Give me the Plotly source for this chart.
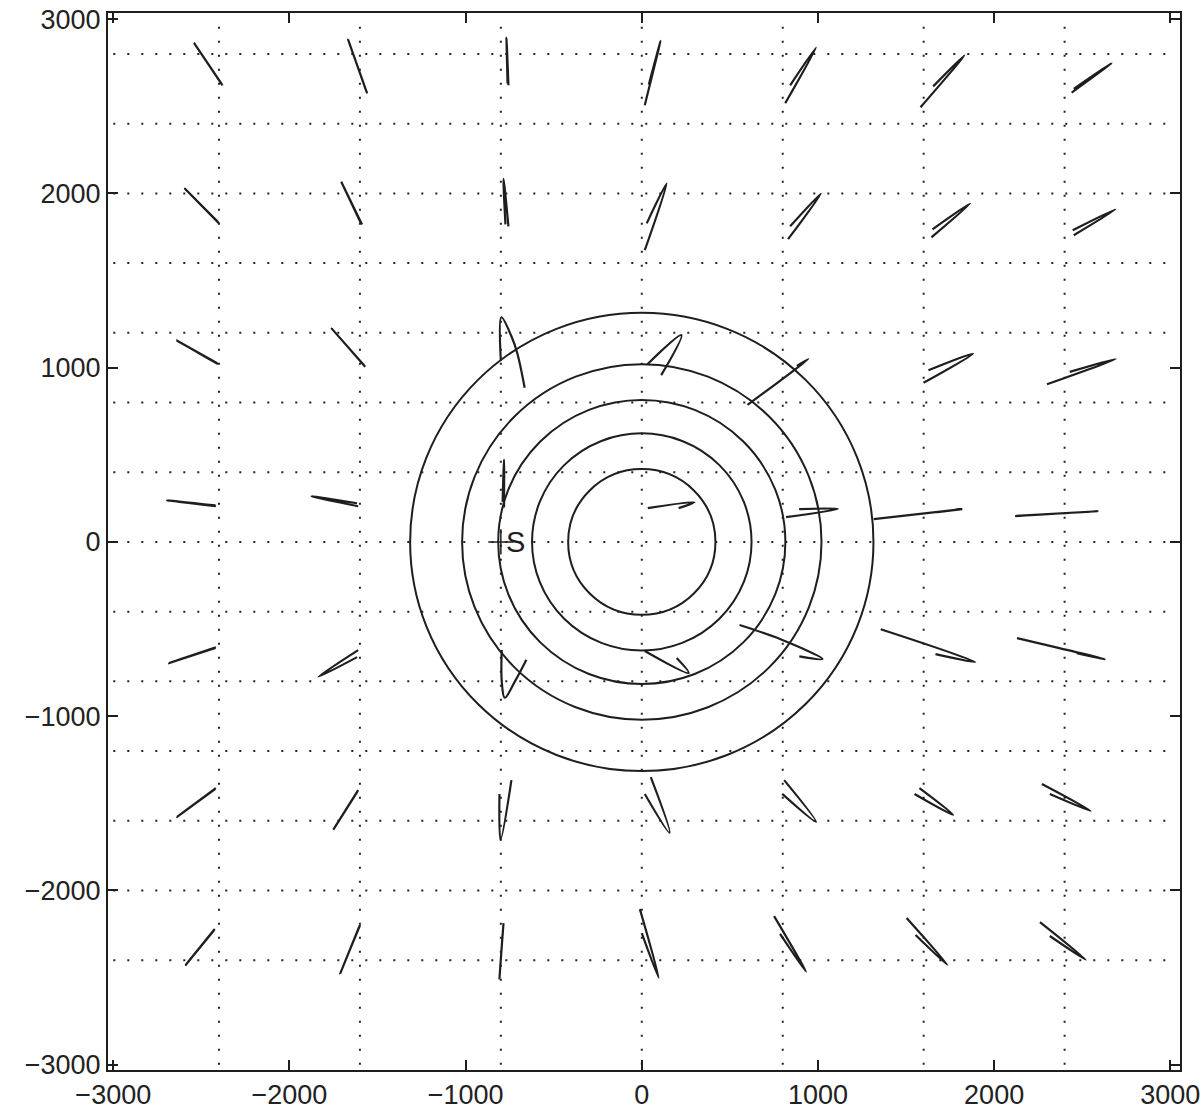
import plotly.graph_objects as go

# axis ticks and the dotted receiver grid
tick_vals = [-3000, -2000, -1000, 0, 1000, 2000, 3000]
grid_x = [-2400, -1600, -800, 0, 800, 1600, 2400]
grid_y = [2800, 2400, 2000, 1600, 1200, 800, 400, 0, -400, -800, -1200, -1600, -2000, -2400]
grid_extent = 3000

# wavefront circles around the origin
circle_r = [418, 623, 815, 1020, 1315]

# source position
source_x = -800
source_y = 0
source_label = "S"

# particle-motion traces, one list of (x, y) points per receiver, by row
row_2600 = [
    [(-2380, 2620), (-2542, 2864), (-2385, 2628)],
    [(-1559, 2574), (-1667, 2882), (-1565, 2590)],
    [(-757, 2620), (-768, 2892), (-762, 2630)],
    [(17, 2506), (107, 2876), (40, 2625)],
    [(814, 2517), (989, 2836), (842, 2620)],
    [(1582, 2494), (1831, 2792), (1654, 2614)],
    [(2452, 2600), (2667, 2747), (2440, 2578)],
]
row_1800 = [
    [(-2401, 1828), (-2593, 2027), (-2405, 1835)],
    [(-1588, 1822), (-1706, 2067), (-1595, 1830)],
    [(-774, 1822), (-785, 2084), (-757, 1811)],
    [(17, 1674), (141, 2056), (28, 1828)],
    [(830, 1737), (1017, 1999), (842, 1811)],
    [(1644, 1748), (1864, 1942), (1650, 1794)],
    [(2452, 1760), (2689, 1908), (2446, 1788)],
]
row_1000 = [
    [(-2406, 1020), (-2640, 1156), (-2410, 1025)],
    [(-1570, 1005), (-1760, 1224), (-1578, 1015)],
    [(-800, 1040), (-797, 1289), (-740, 1180), (-706, 1080), (-665, 885)],
    [(32, 1020), (225, 1187), (110, 957)],
    [(600, 786), (945, 1050), (880, 1010)],
    [(1599, 913), (1880, 1080), (1627, 985)],
    [(2300, 905), (2690, 1050), (2429, 976)],
]
row_200 = [
    [(-2418, 205), (-2695, 239), (-2420, 210)],
    [(-1610, 205), (-1876, 262), (-1616, 222)],
    [(-790, 230), (-782, 473), (-782, 198)],
    [(34, 194), (299, 228), (209, 194)],
    [(819, 142), (1113, 190), (893, 188)],
    [(1316, 131), (1819, 188), (1678, 171)],
    [(2119, 148), (2588, 176), (2125, 150)],
]
row_m600 = [
    [(-2418, -604), (-2684, -695), (-2420, -608)],
    [(-1610, -621), (-1836, -774), (-1616, -661)],
    [(-795, -620), (-795, -800), (-778, -894), (-720, -800), (-655, -676)],
    [(17, -626), (266, -752), (198, -666)],
    [(555, -477), (791, -560), (1026, -672), (894, -657)],
    [(1356, -501), (1893, -689), (1667, -644)],
    [(2130, -552), (2627, -672), (2469, -638)],
]
row_m1400 = [
    [(-2418, -1412), (-2638, -1577), (-2422, -1418)],
    [(-1610, -1424), (-1751, -1651), (-1615, -1435)],
    [(-808, -1446), (-802, -1708), (-740, -1367)],
    [(17, -1446), (158, -1669), (51, -1350)],
    [(808, -1367), (989, -1606), (797, -1446)],
    [(1576, -1412), (1768, -1566), (1548, -1446)],
    [(2271, -1389), (2548, -1543), (2316, -1446)],
]
row_m2200 = [
    [(-2424, -2221), (-2588, -2426), (-2428, -2228)],
    [(-1599, -2198), (-1712, -2477), (-1603, -2205)],
    [(-785, -2187), (-808, -2506), (-790, -2250)],
    [(-11, -2107), (96, -2500), (0, -2244)],
    [(751, -2147), (932, -2466), (785, -2249)],
    [(1503, -2158), (1734, -2426), (1554, -2255)],
    [(2260, -2181), (2520, -2397), (2316, -2261)],
]

ink = "#1e1e1e"
fig = go.Figure()

# dotted grid lines
hx, hy = [], []
for y in grid_y:
    hx += [-grid_extent, grid_extent, None]
    hy += [y, y, None]
vx, vy = [], []
for x in grid_x:
    vx += [x, x, None]
    vy += [-grid_extent, grid_extent, None]
for gx, gy in [(hx, hy), (vx, vy)]:
    fig.add_trace(go.Scatter(x=gx, y=gy, mode="lines", hoverinfo="skip",
                             line=dict(color="#222", width=2, dash="2px,12px")))

# circles
for r in circle_r:
    fig.add_shape(type="circle", xref="x", yref="y", x0=-r, y0=-r, x1=r, y1=r,
                  line=dict(color=ink, width=2))

# hodograms
for row in [row_2600, row_1800, row_1000, row_200, row_m600, row_m1400, row_m2200]:
    for path in row:
        fig.add_trace(go.Scatter(
            x=[p[0] for p in path], y=[p[1] for p in path],
            mode="lines", line=dict(color=ink, width=2.2, shape="spline"),
        ))

# source
fig.add_trace(go.Scatter(x=[source_x], y=[source_y], mode="markers",
                         marker=dict(symbol="cross-thin", size=18,
                                     line=dict(color=ink, width=1.5))))
fig.add_annotation(x=source_x, y=source_y, text=source_label, showarrow=False,
                   xanchor="left", yanchor="middle", xshift=3,
                   font=dict(size=29, color=ink, family="Liberation Sans"))

axis_style = dict(
    tickvals=tick_vals, tickformat="d", ticks="inside", ticklen=10,
    tickwidth=1.5, tickcolor=ink, showline=True, linewidth=2, linecolor=ink,
    mirror="ticks", showgrid=False, zeroline=False, automargin=False,
)
fig.update_xaxes(range=[-3030, 3055], **axis_style)
fig.update_yaxes(range=[-3030, 3035], **axis_style)

fig.update_layout(
    width=1201, height=1116,
    margin=dict(l=108, r=21, t=13, b=46),
    paper_bgcolor="white", plot_bgcolor="white",
    font=dict(family="Liberation Sans", size=27, color="#222"),
    showlegend=False,
)

# drop the browser's default body margin so the figure fills the window
fig.write_html("out.html", config={"displayModeBar": False},
               post_script="document.body.style.margin = '0';")
